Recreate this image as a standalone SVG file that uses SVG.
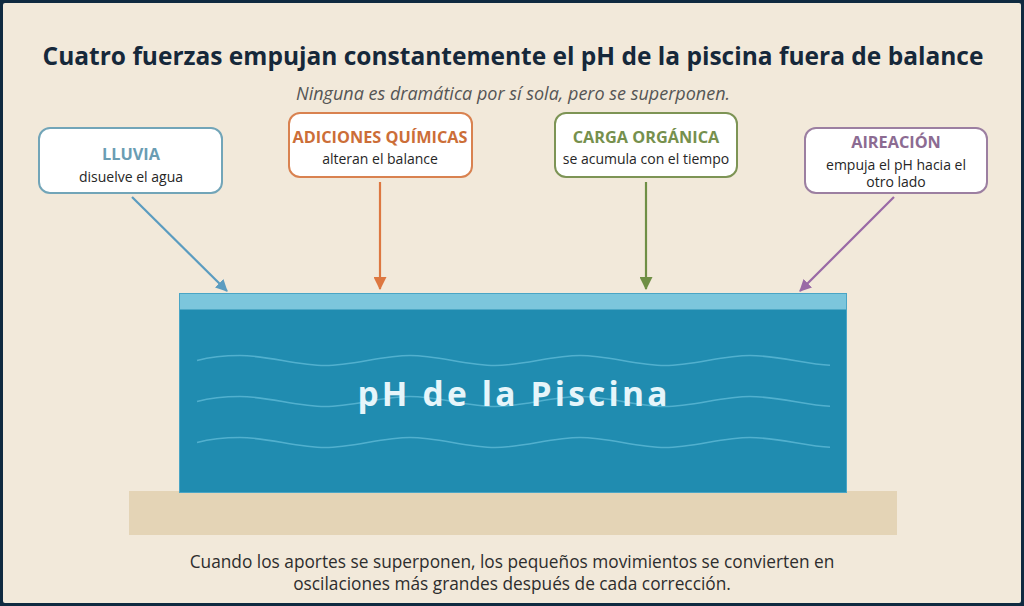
<svg xmlns="http://www.w3.org/2000/svg" width="1024" height="606" viewBox="0 0 1024 606">
<style>
text{font-family:"Open Sans","Noto Sans","Liberation Sans",sans-serif;}
.title{font-size:24.5px;font-weight:700;fill:#16283a;}
.sub{font-size:18px;font-style:italic;fill:#555555;}
.box{fill:#ffffff;stroke-width:2;}
.bt{font-size:16.3px;font-weight:700;text-anchor:middle;}
.bs{font-size:14px;fill:#262626;text-anchor:middle;}
.foot{font-size:17.3px;fill:#2d2d2d;text-anchor:middle;}
.wave{fill:none;stroke:#5bb6d4;stroke-width:1.6;opacity:0.85;}
.conn{fill:none;stroke-width:2.2;}
</style>
<defs>
<marker id="ab" viewBox="0 0 12 12" refX="11" refY="6" markerWidth="12" markerHeight="12" markerUnits="userSpaceOnUse" orient="auto"><path d="M0,0 L12,6 L0,12 Z" fill="#5b9cc0"/></marker>
<marker id="ao" viewBox="0 0 12 12" refX="11" refY="6" markerWidth="13" markerHeight="13" markerUnits="userSpaceOnUse" orient="auto"><path d="M0,0 L12,6 L0,12 Z" fill="#dd7740"/></marker>
<marker id="ag" viewBox="0 0 12 12" refX="11" refY="6" markerWidth="13" markerHeight="13" markerUnits="userSpaceOnUse" orient="auto"><path d="M0,0 L12,6 L0,12 Z" fill="#6f8f45"/></marker>
<marker id="ap" viewBox="0 0 12 12" refX="11" refY="6" markerWidth="12" markerHeight="12" markerUnits="userSpaceOnUse" orient="auto"><path d="M0,0 L12,6 L0,12 Z" fill="#9a6aa6"/></marker>
<path id="wv" d="M197,360.5 C210,357 225,355.5 240,355.5 C268,355.5 297,365.5 325,365.5 C353,365.5 382,355.5 410,355.5 C438,355.5 467,365.5 495,365.5 C523,365.5 552,355.5 580,355.5 C608,355.5 637,365.5 665,365.5 C693,365.5 722,355.5 750,355.5 C778,355.5 805,364 830,365.3"/>
</defs>
<rect x="0" y="0" width="1024" height="606" fill="#0f2a40"/>
<rect x="3" y="3" width="1018" height="600" rx="2" fill="#f2e9da"/>

<text class="title" x="513" y="65" text-anchor="middle">Cuatro fuerzas empujan constantemente el pH de la piscina fuera de balance</text>
<text class="sub" x="513" y="100" text-anchor="middle">Ninguna es dramática por sí sola, pero se superponen.</text>

<g id="base">
<rect x="129" y="491" width="768" height="44" fill="#e4d4b6"/>
</g>
<g id="pool">
<rect x="179.5" y="293.5" width="667" height="199" fill="#208cb0" stroke="#4aa5c5" stroke-width="1"/>
<rect x="180" y="294" width="666" height="15.5" fill="#7cc6dc"/>
<use href="#wv" class="wave"/>
<use href="#wv" class="wave" transform="translate(0,41)"/>
<use href="#wv" class="wave" transform="translate(0,82)"/>
<text x="514" y="406" text-anchor="middle" font-size="33.5" font-weight="700" letter-spacing="3.2" fill="#e6f5fa">pH de la Piscina</text>
</g>

<g id="connectors">
<line class="conn" x1="132" y1="197" x2="227" y2="291" stroke="#5b9cc0" marker-end="url(#ab)"/>
<line class="conn" x1="380" y1="182" x2="380" y2="289" stroke="#dd7740" marker-end="url(#ao)"/>
<line class="conn" x1="646" y1="182" x2="646" y2="289" stroke="#6f8f45" marker-end="url(#ag)"/>
<line class="conn" x1="894" y1="197" x2="800" y2="291" stroke="#9a6aa6" marker-end="url(#ap)"/>
</g>

<g id="lluvia">
<rect class="box" x="39" y="128" width="183" height="65" rx="11" stroke="#72a5b8"/>
<text class="bt" x="131" y="160" fill="#6a9db3">LLUVIA</text>
<text class="bs" x="131" y="182">disuelve el agua</text>
</g>
<g id="adiciones">
<rect class="box" x="289" y="113" width="183" height="64" rx="11" stroke="#d98250"/>
<text class="bt" x="380" y="143" fill="#cc6e38">ADICIONES QUÍMICAS</text>
<text class="bs" x="380" y="164">alteran el balance</text>
</g>
<g id="carga">
<rect class="box" x="555" y="113" width="182" height="64" rx="11" stroke="#7d9455"/>
<text class="bt" x="646" y="143" fill="#76904d">CARGA ORGÁNICA</text>
<text class="bs" x="646" y="164">se acumula con el tiempo</text>
</g>
<g id="aireacion">
<rect class="box" x="805" y="128" width="182" height="65" rx="11" stroke="#9c7fa1"/>
<text class="bt" x="896" y="148" fill="#8c6b92">AIREACIÓN</text>
<text class="bs" x="896" y="170">empuja el pH hacia el</text>
<text class="bs" x="896" y="187">otro lado</text>
</g>

<text class="foot" x="512" y="568">Cuando los aportes se superponen, los pequeños movimientos se convierten en</text>
<text class="foot" x="512" y="590">oscilaciones más grandes después de cada corrección.</text>
</svg>
